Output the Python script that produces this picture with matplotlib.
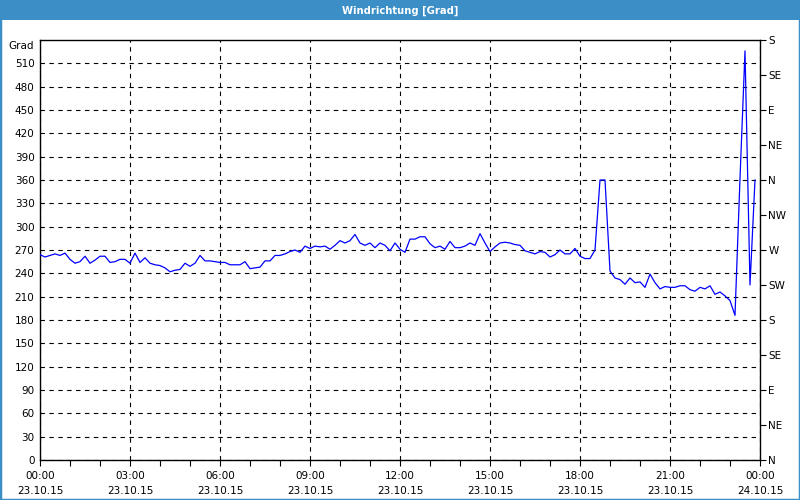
import matplotlib
matplotlib.use("Agg")
import matplotlib.pyplot as plt
from matplotlib.patches import Rectangle
import numpy as np

# wind direction in degrees, one reading every 10 minutes from 23.10.15 00:00
wind_dir = [
    264, 261, 263, 265, 263, 266, 258, 253, 255, 262, 253, 257,
    262, 262, 254, 255, 258, 258, 253, 266, 254, 260, 253, 251,
    250, 247, 242, 244, 245, 253, 249, 253, 263, 256, 256, 255,
    254, 254, 251, 251, 251, 255, 246, 247, 248, 256, 256, 263,
    263, 265, 268, 270, 267, 275, 272, 275, 274, 275, 271, 276,
    282, 279, 282, 290, 279, 276, 279, 273, 279, 276, 269, 279,
    271, 267, 284, 284, 287, 287, 278, 273, 275, 271, 281, 273,
    273, 275, 279, 276, 291, 279, 268, 274, 279, 280, 279, 277,
    276, 269, 267, 265, 268, 267, 261, 264, 270, 265, 265, 272,
    262, 259, 259, 270, 360, 360, 243, 234, 232, 226, 234, 228,
    229, 222, 239, 228, 220, 223, 222, 222, 224, 224, 219, 217,
    222, 220, 224, 213, 216, 211, 205, 186, 362, 526, 225, 360,
]
step_min = 10
minutes = np.arange(len(wind_dir)) * step_min

x_ticks = [0, 180, 360, 540, 720, 900, 1080, 1260, 1440]
x_labels = ["00:00\n23.10.15", "03:00\n23.10.15", "06:00\n23.10.15",
            "09:00\n23.10.15", "12:00\n23.10.15", "15:00\n23.10.15",
            "18:00\n23.10.15", "21:00\n23.10.15", "00:00\n24.10.15"]
y_ticks = list(range(0, 511, 30))
compass_ticks = list(range(0, 541, 45))
compass_labels = ["N", "NE", "E", "SE", "S", "SW", "W", "NW",
                  "N", "NE", "E", "SE", "S"]

title_blue = "#3b8fc6"

fig = plt.figure(figsize=(8, 5), dpi=100)
fig.patch.set_facecolor("white")

# title bar and thin frame around the window
fig.patches.append(Rectangle((0, 0.96), 1, 0.04, transform=fig.transFigure,
                             facecolor=title_blue, edgecolor="none", zorder=0))
fig.patches.append(Rectangle((0, 0), 1, 1, transform=fig.transFigure,
                             facecolor="none", edgecolor=title_blue, linewidth=2.5, zorder=5))
fig.text(0.5, 0.979, "Windrichtung [Grad]", color="white", fontsize=7.2,
         fontweight="bold", ha="center", va="center")

ax = fig.add_axes([0.05, 0.08, 0.90, 0.84])
ax.plot(minutes, wind_dir, color="#0000ff", linewidth=0.9, zorder=3)

ax.set_xlim(0, 1440)
ax.set_ylim(0, 540)

ax.set_xticks(x_ticks)
ax.set_xticklabels(x_labels, fontsize=7.5, linespacing=1.6)
ax.set_xticks(np.arange(0, 1441, 60), minor=True)
ax.tick_params(axis="x", which="both", direction="out", length=4, width=0.8, pad=4)

ax.set_yticks(y_ticks)
ax.set_yticklabels([str(v) for v in y_ticks], fontsize=7.5)
ax.tick_params(axis="y", length=0, pad=4)

ax.grid(True, which="major", color="black", linestyle=(0, (4, 4)), linewidth=0.8)
for s in ax.spines.values():
    s.set_color("black")
    s.set_linewidth(1)

ax.text(-0.008, 532, "Grad", transform=ax.get_yaxis_transform(),
        ha="right", va="center", fontsize=7.5)

ax2 = ax.twinx()
ax2.set_ylim(0, 540)
ax2.set_yticks(compass_ticks)
ax2.set_yticklabels(compass_labels, fontsize=7.5)
ax2.tick_params(axis="y", direction="out", length=4, width=0.8, pad=2)
for s in ax2.spines.values():
    s.set_visible(False)

fig.savefig("out.png", dpi=100, facecolor="white")
